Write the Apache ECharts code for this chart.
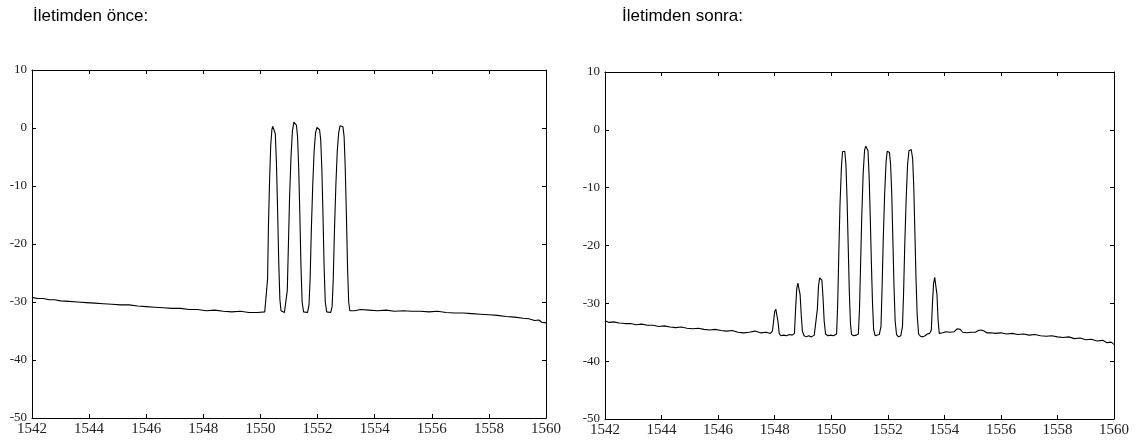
<!DOCTYPE html>
<html><head><meta charset="utf-8">
<script src="https://cdn.jsdelivr.net/npm/echarts@6/dist/echarts.min.js"></script>
<style>html,body{margin:0;padding:0;background:#fff}#c{width:1138px;height:446px}</style>
</head><body><div id="c"></div>
<script>
const titles = ['İletimden önce:', 'İletimden sonra:'];
const xRange = {min: 1542, max: 1560, interval: 2};
const yRange = {min: -50, max: 10, interval: 10};

// Spectrum before transmission: [wavelength nm, power dB]
const beforeData = [
  [1542.0,-29.2],[1542.2,-29.4],[1542.4,-29.4],[1542.6,-29.6],[1542.8,-29.6],[1543.0,-29.8],
  [1543.3,-29.9],[1543.6,-30.0],[1543.9,-30.1],[1544.2,-30.2],[1544.5,-30.3],[1544.8,-30.4],
  [1545.1,-30.5],[1545.4,-30.5],[1545.7,-30.7],[1546.0,-30.8],[1546.3,-30.9],[1546.6,-31.0],
  [1546.9,-31.1],[1547.2,-31.1],[1547.5,-31.3],[1547.8,-31.3],[1548.1,-31.5],[1548.4,-31.4],
  [1548.7,-31.6],[1549.0,-31.7],[1549.3,-31.6],[1549.6,-31.8],[1549.9,-31.8],[1550.15,-31.7],
  [1550.22,-31.8],[1550.25,-26],[1550.28,-17],[1550.32,-9],[1550.36,-3],[1550.40,-0.3],
  [1550.43,0.3],[1550.48,0.2],[1550.52,-1.0],[1550.56,-6],[1550.60,-14],[1550.64,-23],
  [1550.68,-29.5],[1550.72,-31.5],[1550.78,-31.8],[1550.84,-31.8],[1550.90,-31.5],
  [1550.94,-28],[1550.98,-20],[1551.02,-12],[1551.07,-5],[1551.12,-0.5],[1551.17,1.0],
  [1551.21,0.9],[1551.26,0.5],[1551.30,-1.5],[1551.34,-7],[1551.38,-15],[1551.42,-24],
  [1551.46,-30],[1551.51,-31.7],[1551.58,-31.9],[1551.65,-31.8],[1551.70,-30.5],
  [1551.74,-26],[1551.78,-18],[1551.83,-10],[1551.88,-4],[1551.93,-0.8],[1551.98,0.1],
  [1552.02,0.2],[1552.07,-0.3],[1552.11,-2],[1552.15,-7],[1552.19,-15],[1552.23,-24],
  [1552.27,-30],[1552.32,-31.7],[1552.39,-32.0],[1552.46,-31.8],[1552.51,-30.8],
  [1552.55,-26],[1552.59,-18],[1552.64,-10],[1552.69,-4],[1552.74,-0.8],[1552.79,0.4],
  [1552.84,0.5],[1552.89,0.2],[1552.93,-1.5],[1552.97,-7],[1553.01,-15],[1553.05,-24],
  [1553.09,-30],[1553.13,-31.5],[1553.2,-31.6],[1553.3,-31.5],[1553.5,-31.3],[1553.8,-31.4],
  [1554.1,-31.5],[1554.4,-31.4],[1554.7,-31.6],[1555.0,-31.5],[1555.3,-31.6],[1555.6,-31.6],
  [1555.9,-31.7],[1556.2,-31.6],[1556.5,-31.8],[1556.8,-31.9],[1557.1,-31.9],[1557.4,-32.0],
  [1557.7,-32.1],[1558.0,-32.2],[1558.3,-32.3],[1558.6,-32.5],[1558.9,-32.6],[1559.2,-32.8],
  [1559.4,-32.9],[1559.6,-33.2],[1559.75,-33.1],[1559.85,-33.5],[1560.0,-33.6]
];

// Spectrum after transmission: [wavelength nm, power dB]
const afterData = [
  [1542.0,-33.0],[1542.15,-33.3],[1542.3,-33.2],[1542.5,-33.4],[1542.7,-33.5],[1542.9,-33.5],
  [1543.1,-33.7],[1543.3,-33.6],[1543.5,-33.8],[1543.7,-33.8],[1543.9,-34.0],[1544.1,-33.9],
  [1544.3,-34.1],[1544.5,-34.2],[1544.7,-34.1],[1544.9,-34.3],[1545.1,-34.4],[1545.3,-34.3],
  [1545.5,-34.5],[1545.7,-34.6],[1545.9,-34.5],[1546.1,-34.7],[1546.3,-34.8],[1546.5,-34.7],
  [1546.7,-35.0],[1546.9,-35.1],[1547.1,-35.0],[1547.3,-34.8],[1547.5,-35.1],[1547.7,-35.0],
  [1547.85,-35.2],[1547.92,-34.8],[1547.96,-33.2],[1548.00,-31.4],[1548.04,-31.0],[1548.08,-31.3],
  [1548.12,-33.2],[1548.16,-35.2],[1548.22,-35.6],[1548.32,-35.5],[1548.42,-35.6],[1548.52,-35.4],
  [1548.62,-35.5],[1548.70,-35.2],[1548.74,-31],[1548.78,-27.5],[1548.82,-26.5],[1548.86,-26.7],
  [1548.90,-28.5],[1548.94,-32],[1548.98,-34.8],[1549.04,-35.6],[1549.12,-35.8],[1549.2,-35.6],
  [1549.3,-35.8],[1549.4,-35.5],[1549.47,-35.2],[1549.51,-31],[1549.55,-27],[1549.59,-25.6],
  [1549.63,-25.4],[1549.67,-26],[1549.71,-29],[1549.75,-33],[1549.80,-35.3],[1549.88,-35.6],
  [1549.98,-35.5],[1550.08,-35.6],[1550.15,-35.4],
  [1550.19,-35.3],[1550.23,-30],[1550.27,-21],[1550.31,-13],[1550.36,-6.5],[1550.40,-3.8],
  [1550.44,-3.5],[1550.48,-3.7],[1550.52,-6],[1550.56,-12],[1550.60,-20],[1550.64,-28],
  [1550.68,-33.5],[1550.72,-35.4],[1550.80,-35.6],[1550.88,-35.5],[1550.96,-35.3],
  [1551.00,-31],[1551.04,-23],[1551.08,-15],[1551.13,-7.5],[1551.18,-3.5],[1551.22,-2.8],
  [1551.26,-2.9],[1551.30,-3.6],[1551.34,-8],[1551.38,-15],[1551.42,-23],[1551.46,-30],
  [1551.50,-34.5],[1551.55,-35.6],[1551.62,-35.7],[1551.70,-35.4],[1551.76,-34],
  [1551.80,-27],[1551.84,-19],[1551.89,-11],[1551.94,-5.5],[1551.98,-3.7],[1552.02,-3.6],
  [1552.06,-3.9],[1552.10,-6],[1552.14,-11],[1552.18,-19],[1552.22,-27],[1552.26,-33],
  [1552.31,-35.4],[1552.38,-35.8],[1552.46,-35.6],[1552.52,-34],
  [1552.56,-28],[1552.60,-20],[1552.65,-12],[1552.70,-6],[1552.75,-3.6],[1552.79,-3.3],
  [1552.83,-3.4],[1552.88,-5],[1552.92,-10],[1552.96,-18],[1553.00,-26],[1553.04,-32],
  [1553.09,-35.3],[1553.16,-35.7],[1553.24,-35.8],[1553.32,-35.6],[1553.40,-35.3],[1553.48,-35.2],
  [1553.54,-34.6],[1553.58,-30],[1553.62,-26.5],[1553.66,-25.5],[1553.70,-25.8],[1553.74,-28.5],
  [1553.78,-33],[1553.82,-35.2],[1553.88,-35.0],[1553.95,-35.1],
  [1554.05,-34.9],[1554.2,-35.0],[1554.35,-34.9],[1554.45,-34.4],[1554.5,-34.2],[1554.56,-34.5],
  [1554.65,-35.0],[1554.8,-35.1],[1554.95,-35.0],[1555.1,-35.0],[1555.2,-34.7],[1555.3,-34.6],
  [1555.4,-34.8],[1555.5,-35.1],[1555.65,-35.1],[1555.8,-35.2],[1556.0,-35.1],[1556.2,-35.3],
  [1556.4,-35.2],[1556.6,-35.4],[1556.8,-35.3],[1557.0,-35.5],[1557.2,-35.4],[1557.4,-35.6],
  [1557.6,-35.7],[1557.8,-35.6],[1558.0,-35.8],[1558.2,-35.9],[1558.4,-35.8],[1558.6,-36.1],
  [1558.8,-36.0],[1559.0,-36.3],[1559.2,-36.2],[1559.4,-36.5],[1559.6,-36.4],[1559.75,-36.8],
  [1559.9,-36.7],[1560.0,-37.1]
];

const chart = echarts.init(document.getElementById('c'), null, {renderer: 'canvas'});

const grids = [
  {left: 32, top: 70, width: 514, height: 348},
  {left: 605, top: 72, width: 509, height: 347}
];

const lineStyle = {show: true, onZero: false, lineStyle: {color: '#000', width: 1}};
const tickIn = {show: true, inside: true, length: 4, lineStyle: {color: '#000', width: 1}};
const plain = v => String(v);

function xAxes(gi) {
  return [
    {gridIndex: gi, type: 'value', position: 'bottom', min: xRange.min, max: xRange.max, interval: xRange.interval,
     axisLine: lineStyle, axisTick: tickIn, splitLine: {show: false},
     axisLabel: {show: true, margin: 4, color: '#222', fontFamily: 'Liberation Serif', fontSize: 15,
                 showMinLabel: true, showMaxLabel: true, formatter: plain}},
    {gridIndex: gi, type: 'value', position: 'top', min: xRange.min, max: xRange.max, interval: xRange.interval,
     axisLine: lineStyle, axisTick: tickIn, splitLine: {show: false}, axisLabel: {show: false}}
  ];
}
function yAxes(gi) {
  return [
    {gridIndex: gi, type: 'value', position: 'left', min: yRange.min, max: yRange.max, interval: yRange.interval,
     axisLine: lineStyle, axisTick: tickIn, splitLine: {show: false},
     axisLabel: {show: true, margin: 5, color: '#222', fontFamily: 'Liberation Serif', fontSize: 13,
                 showMinLabel: true, showMaxLabel: true, formatter: plain}},
    {gridIndex: gi, type: 'value', position: 'right', min: yRange.min, max: yRange.max, interval: yRange.interval,
     axisLine: lineStyle, axisTick: tickIn, splitLine: {show: false}, axisLabel: {show: false}}
  ];
}

const titleStyle = {fontFamily: 'Liberation Sans', fontSize: 17, fontWeight: 'normal', color: '#000'};

chart.setOption({
  animation: false,
  backgroundColor: '#fff',
  title: [
    {text: titles[0], left: 33, top: 8, padding: 0, textStyle: titleStyle},
    {text: titles[1], left: 622, top: 8, padding: 0, textStyle: titleStyle}
  ],
  grid: grids,
  xAxis: xAxes(0).concat(xAxes(1)),
  yAxis: yAxes(0).concat(yAxes(1)),
  series: [
    {type: 'line', xAxisIndex: 0, yAxisIndex: 0, data: beforeData, showSymbol: false, symbol: 'none',
     lineStyle: {color: '#000', width: 1.1}},
    {type: 'line', xAxisIndex: 2, yAxisIndex: 2, data: afterData, showSymbol: false, symbol: 'none',
     lineStyle: {color: '#000', width: 1.1}}
  ]
});
</script>
</body></html>
